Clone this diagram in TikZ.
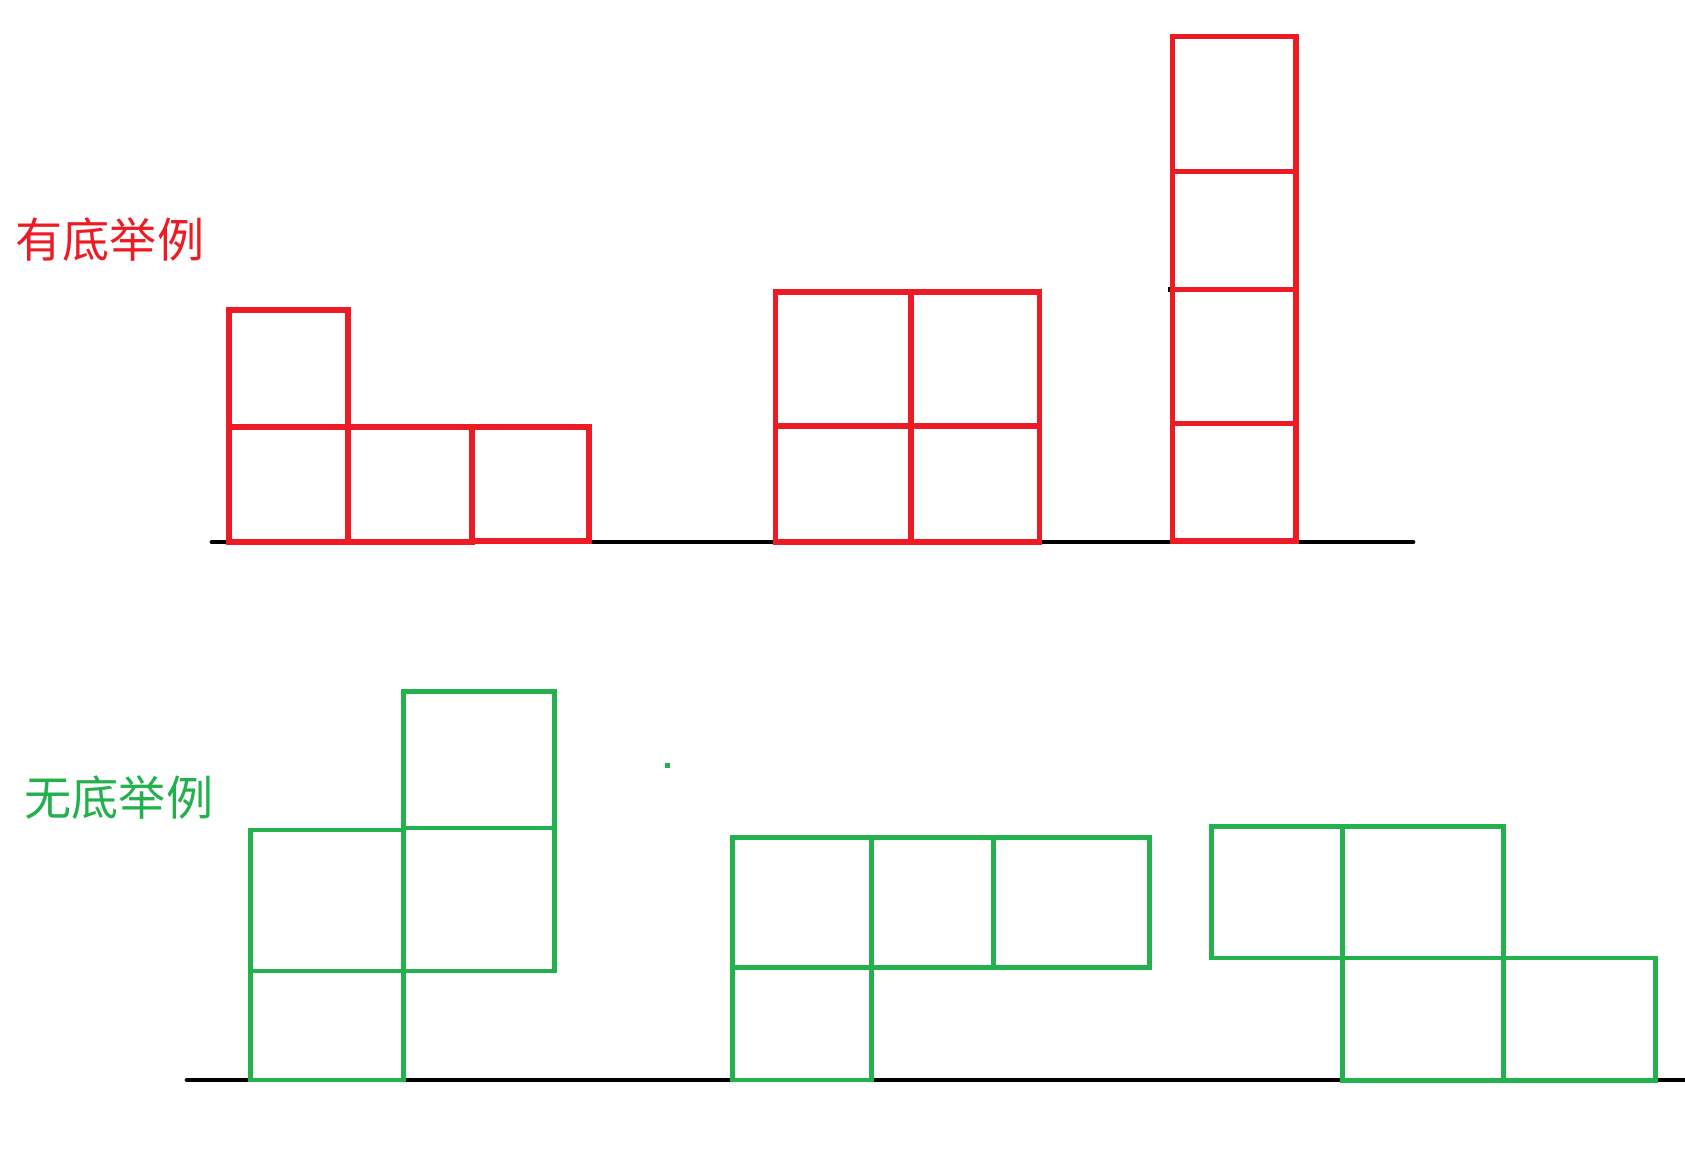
\documentclass[tikz,border=0pt]{standalone}
\usepackage{fontspec}
\newfontfamily\cjk{Noto Sans CJK SC}
\usetikzlibrary{positioning}
\definecolor{paintred}{HTML}{ED1C24}
\definecolor{paintgreen}{HTML}{22B14C}
\tikzset{redcell/.style={draw=paintred, line width=1.5pt},
         greencell/.style={draw=paintgreen, line width=1.4pt},
         ground/.style={draw=black, line width=1.35pt, line cap=round},
         caption/.style={anchor=west, inner sep=0pt, font=\cjk\fontsize{13.4}{16}\selectfont},
        }
\begin{document}
\begin{tikzpicture}[x=0.01cm, y=-0.01cm]
        \useasboundingbox (0,0) rectangle (1685,1153);

        \node[caption, text=paintred](withbase)at(15,240){有底举例};
        \node[caption, text=paintgreen](nobase)at(24,798){无底举例};

        \draw[ground](212,542)--(1413,542);
        \draw[ground](187,1080)--(1685,1080);
        \draw[draw=black, line width=1.3pt](1168,289.3)--(1298,289.3);

        \draw[redcell](229,310)rectangle(348,427);
        \draw[redcell](229,427)rectangle(348,542);
        \draw[redcell](348,427)rectangle(472,542);
        \draw[redcell](472,427)rectangle(589,541);

        \draw[redcell](775.6,292)rectangle(911,426);
        \draw[redcell](911,292)rectangle(1039.3,426);
        \draw[redcell](775.6,426)rectangle(911,542);
        \draw[redcell](911,426)rectangle(1039.3,542);

        \draw[redcell](1172.5,36.7)rectangle(1296,171.7);
        \draw[redcell](1172.5,171.7)rectangle(1296,289.3);
        \draw[redcell](1172.5,289.3)rectangle(1296,423.3);
        \draw[redcell](1172.5,423.3)rectangle(1296,541);

        \draw[greencell](250.7,830)rectangle(403.3,971);
        \draw[greencell](250.7,971)rectangle(403.3,1080);
        \draw[greencell](403.3,691.3)rectangle(554.4,828);
        \draw[greencell](403.3,828)rectangle(554.4,971);

        \fill[paintgreen](665,763)rectangle(669.5,767.5);

        \draw[greencell](732.7,837.3)rectangle(871.3,967.3);
        \draw[greencell](871.3,837.3)rectangle(993.3,967.3);
        \draw[greencell](993.3,837.3)rectangle(1149.7,967.3);
        \draw[greencell](732.7,967.3)rectangle(871.3,1080);

        \draw[greencell](1211.7,826.3)rectangle(1342.3,958);
        \draw[greencell](1342.3,826.3)rectangle(1503.3,958);
        \draw[greencell](1342.3,958)rectangle(1503.3,1080.7);
        \draw[greencell](1503.3,958)rectangle(1655.7,1080.7);
    \end{tikzpicture}
\end{document}
